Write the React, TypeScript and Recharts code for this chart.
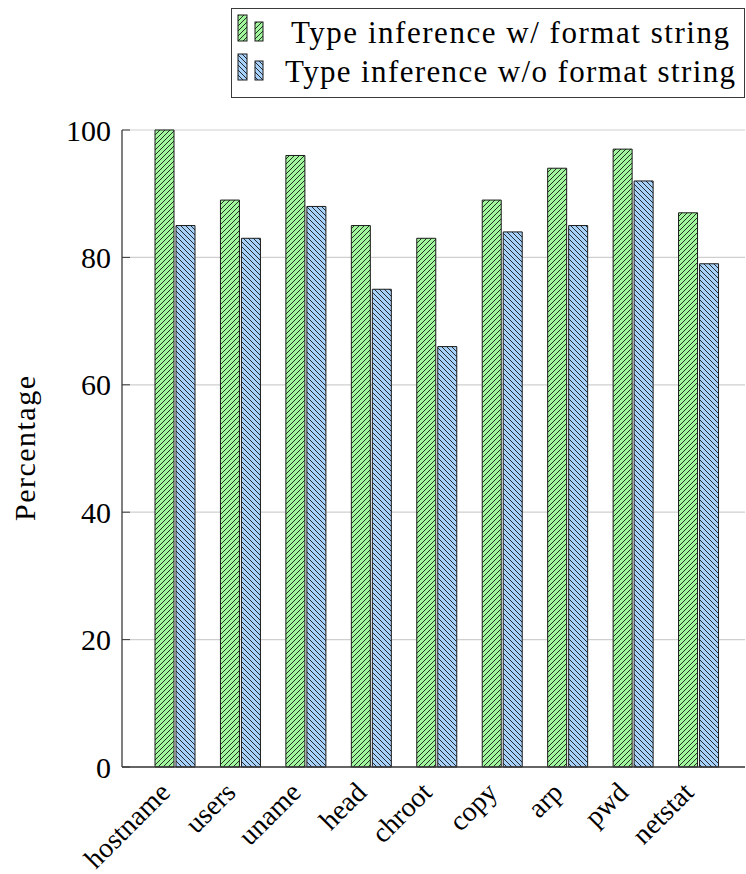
import React from "react"
import { BarChart, Bar, XAxis, YAxis, CartesianGrid, Legend } from "recharts"

const commands = ["hostname", "users", "uname", "head", "chroot", "copy", "arp", "pwd", "netstat"]
const withFormat = [100, 89, 96, 85, 83, 89, 94, 97, 87]
const withoutFormat = [85, 83, 88, 75, 66, 84, 85, 92, 79]
const yTicks = [0, 20, 40, 60, 80, 100]
const seriesNames = ["Type inference w/ format string", "Type inference w/o format string"]

const SERIF = "Liberation Serif"
const FRAME = "#3a3a3a"

const data = commands.map((name, i) => ({
  name,
  withFmt: withFormat[i],
  withoutFmt: withoutFormat[i],
}))

function LeftTick(props: any) {
  const { x, y, payload } = props
  return (
    <g>
      <line x1={x + 11} x2={x + 19} y1={y} y2={y} stroke={FRAME} strokeWidth={1} />
      <text x={x} y={y + 10.5} textAnchor="end" style={{ fontFamily: SERIF }} fontSize={30} fill="#000">
        {payload.value}
      </text>
    </g>
  )
}

function RightTick(props: any) {
  const { x, y } = props
  return <line x1={x} x2={x - 8} y1={y} y2={y} stroke={FRAME} strokeWidth={1} />
}

function CategoryTick(props: any) {
  const { x, y, payload } = props
  const ax = x - 3
  const ay = y + 27
  return (
    <text
      x={ax}
      y={ay}
      transform={`rotate(-45, ${ax}, ${ay})`}
      textAnchor="end"
      style={{ fontFamily: SERIF }}
      fontSize={28}
      fill="#000"
    >
      {payload.value}
    </text>
  )
}

function YLabel(props: any) {
  const { viewBox } = props
  const lx = viewBox.x + 35
  const ly = viewBox.y + viewBox.height / 2
  return (
    <text
      x={lx}
      y={ly}
      transform={`rotate(-90, ${lx}, ${ly})`}
      textAnchor="middle"
      style={{ fontFamily: SERIF }}
      fontSize={30}
      textLength={145}
      lengthAdjust="spacing"
      fill="#000"
    >
      Percentage
    </text>
  )
}

function LegendBox(props: any) {
  const { payload } = props
  const widths = [438, 450]
  return (
    <svg width={514} height={90} style={{ display: "block" }}>
      <rect x={0.5} y={0.5} width={513} height={89} fill="#fff" stroke={FRAME} strokeWidth={1} />
      {(payload || []).map((entry: any, i: number) => {
        const dy = i * 39
        return (
          <g key={entry.value}>
            <rect x={7} y={7 + dy} width={9} height={26} fill={entry.color} stroke="#1a1a1a" strokeWidth={1} />
            <rect x={24} y={14 + dy} width={8} height={19} fill={entry.color} stroke="#1a1a1a" strokeWidth={1} />
            <text
              x={279}
              y={34.7 + dy}
              textAnchor="middle"
              style={{ fontFamily: SERIF }}
              fontSize={31}
              textLength={widths[i]}
              lengthAdjust="spacing"
              fill="#000"
            >
              {entry.value}
            </text>
          </g>
        )
      })}
    </svg>
  )
}

export default function App() {
  return (
    <div style={{ position: "absolute", left: 0, top: 0, width: 746, height: 874, background: "#fff", fontFamily: SERIF }}>
      <BarChart
        width={746}
        height={874}
        data={data}
        margin={{ top: 130, right: 1, bottom: 0, left: 0 }}
        barSize={19}
        barGap={2}
      >
        <defs>
          <pattern id="hatchGreen" patternUnits="userSpaceOnUse" width={5} height={5}>
            <rect width={5} height={5} fill="#a2f79e" />
            <path d="M-1,1 l2,-2 M0,5 l5,-5 M4,6 l2,-2" stroke="#000" strokeWidth={0.8} />
          </pattern>
          <pattern id="hatchBlue" patternUnits="userSpaceOnUse" width={5} height={5}>
            <rect width={5} height={5} fill="#a8d2fa" />
            <path d="M-1,4 l2,2 M0,0 l5,5 M4,-1 l2,2" stroke="#000" strokeWidth={0.8} />
          </pattern>
        </defs>
        <CartesianGrid vertical={false} stroke="#cfcfcf" strokeWidth={1.2} />
        <XAxis
          dataKey="name"
          height={107}
          padding={{ left: 20, right: 14 }}
          axisLine={{ stroke: FRAME, strokeWidth: 1.3 }}
          tickLine={false}
          tickSize={0}
          tickMargin={0}
          interval={0}
          tick={<CategoryTick />}
        />
        <XAxis
          xAxisId="top"
          dataKey="name"
          orientation="top"
          height={0}
          axisLine={{ stroke: FRAME, strokeWidth: 1.3 }}
          tickLine={false}
          tick={false}
        />
        <YAxis
          width={122}
          domain={[0, 100]}
          ticks={yTicks}
          axisLine={{ stroke: FRAME, strokeWidth: 1.3 }}
          tickLine={false}
          tickSize={0}
          tickMargin={11}
          tick={<LeftTick />}
          label={<YLabel />}
        />
        <YAxis
          yAxisId="right"
          orientation="right"
          width={0}
          domain={[0, 100]}
          ticks={yTicks}
          axisLine={{ stroke: FRAME, strokeWidth: 1.3 }}
          tickLine={false}
          tickSize={0}
          tickMargin={0}
          tick={<RightTick />}
        />
        <Legend
          layout="vertical"
          verticalAlign="middle"
          align="center"
          wrapperStyle={{ top: 8, left: 231, width: 514, height: 90 }}
          content={<LegendBox />}
        />
        <Bar
          dataKey="withFmt"
          name={seriesNames[0]}
          fill="url(#hatchGreen)"
          stroke="#1a1a1a"
          strokeWidth={1}
          isAnimationActive={false}
        />
        <Bar
          dataKey="withoutFmt"
          name={seriesNames[1]}
          fill="url(#hatchBlue)"
          stroke="#1a1a1a"
          strokeWidth={1}
          isAnimationActive={false}
        />
      </BarChart>
    </div>
  )
}
